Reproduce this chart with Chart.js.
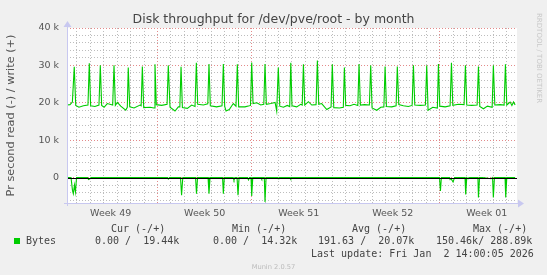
<!DOCTYPE html>
<html>
<head>
<meta charset="utf-8">
<script src="https://cdn.jsdelivr.net/npm/chart.js@4.4.0/dist/chart.umd.min.js"></script>
<style>
  html, body { margin: 0; padding: 0; background: #f0f0f0; }
  #wrap { position: relative; width: 547px; height: 275px; overflow: hidden; }
  #chart { position: absolute; left: 0; top: 0; }
  .t { position: absolute; white-space: pre; }
  .mono { font-family: "DejaVu Sans Mono", monospace; font-size: 10px; line-height: 12px; color: #444; }
  .title { left: 0; width: 547px; top: 11px; text-align: center; font-family: "DejaVu Sans"; font-size: 12.5px; line-height: 16px; color: #444; }
  .mark { left: 535px; top: 13px; writing-mode: vertical-rl; font-family: "DejaVu Sans"; font-size: 7px; line-height: 8px; color: #c8c8c8; }
  .foot { left: 0; width: 547px; text-align: center; top: 263px; font-family: "DejaVu Sans"; font-size: 6.7px; line-height: 9px; color: #bbb; }
  .box { position: absolute; left: 14px; top: 238px; width: 6px; height: 6px; background: #00cc00; }
</style>
</head>
<body>
<div id="wrap">
  <canvas id="chart" width="547" height="275"></canvas>
  <div class="t title">Disk throughput for /dev/pve/root - by month</div>
  <div class="t mark">RRDTOOL / TOBI OETIKER</div>
  <div class="t mono" style="left:111px;top:223px">Cur (-/+)</div>
  <div class="t mono" style="left:232px;top:223px">Min (-/+)</div>
  <div class="t mono" style="left:352px;top:223px">Avg (-/+)</div>
  <div class="t mono" style="left:473px;top:223px">Max (-/+)</div>
  <div class="box"></div>
  <div class="t mono" style="left:26px;top:235px">Bytes</div>
  <div class="t mono" style="left:95px;top:235px">0.00 /  19.44k</div>
  <div class="t mono" style="left:213px;top:235px">0.00 /  14.32k</div>
  <div class="t mono" style="left:318px;top:235px">191.63 /  20.07k</div>
  <div class="t mono" style="left:436px;top:235px">150.46k/ 288.89k</div>
  <div class="t mono" style="left:311px;top:248px">Last update: Fri Jan  2 14:00:05 2026</div>
  <div class="t foot">Munin 2.0.57</div>
</div>
<script>
// x = days since the left edge of the graph
const weekLabels = ['Week 49', 'Week 50', 'Week 51', 'Week 52', 'Week 01'];

// write (+), bytes per second
const writeDay = [0.00,0.22,0.40,0.54,0.65,0.89,1.22,1.56,1.66,1.76,2.08,2.38,2.48,2.58,2.76,3.00,3.40,3.50,3.60,3.75,
  4.00,4.37,4.49,4.56,4.67,4.99,5.44,5.52,5.61,5.71,6.18,6.48,6.55,6.65,7.05,7.45,7.54,7.67,8.04,8.29,
  8.40,8.49,8.59,8.96,9.28,9.53,9.63,9.73,10.15,10.48,10.57,10.67,11.14,11.54,11.64,11.74,11.84,12.08,12.38,12.58,
  12.68,12.78,13.25,13.57,13.66,13.75,13.85,14.13,14.42,14.65,14.74,14.84,15.17,15.49,15.61,15.73,15.84,16.11,16.40,16.58,
  16.66,16.75,17.10,17.40,17.51,17.60,17.70,17.97,18.22,18.54,18.64,18.74,18.96,19.34,19.66,19.75,19.86,20.28,20.57,20.65,
  20.75,21.07,21.37,21.65,21.74,21.84,22.15,22.51,22.61,22.71,23.06,23.36,23.59,23.68,23.78,24.18,24.50,24.59,24.70,25.04,
  25.41,25.69,25.79,25.89,26.30,26.68,26.78,26.88,27.23,27.57,27.65,27.75,28.15,28.52,28.62,28.72,29.14,29.56,29.66,29.76,
  30.13,30.53,30.63,30.73,31.00,31.30,31.65,31.74,31.85,32.24,32.54,32.64,32.74,32.99,33.12,33.24,33.36];
const writeVal = [19400,19500,20200,29600,19300,18800,19200,19400,30600,19200,19000,19400,30000,19300,18800,19800,19400,30000,19300,20100,
  19100,18000,18800,29400,18900,18600,19400,19200,29700,18700,18800,18600,30300,19500,19300,19600,30000,18800,17800,18900,
  18900,29600,18700,18500,19400,19000,30700,19600,19400,19700,30400,19200,18900,19200,30400,19000,17800,18200,19800,19100,
  30300,18900,18900,19200,19300,30800,19800,20000,19400,19600,30400,19600,19800,20100,17800,29400,19100,18800,19300,19000,
  30700,19200,18900,19600,19400,30300,19400,20300,19400,19500,31300,19600,19800,18200,18900,30300,18700,18600,18800,29400,
  19300,19200,19600,19300,30400,19400,19500,19400,30000,18600,18000,18800,18900,29700,19000,18900,19200,29700,19500,19200,
  19000,19300,30000,19400,19300,19400,30000,18000,18800,18600,30400,19100,18900,19200,30700,19300,19600,19500,30000,19400,
  19300,19400,29700,19000,18400,19100,18800,30000,19400,19500,19400,30300,19400,20200,19300,20200,19440];

// read (-), bytes per second
const readDay = [0.00,0.30,0.41,0.47,0.56,0.63,0.71,1.53,1.60,1.71,1.79,
  7.48,7.54,7.63,8.45,8.53,8.62,9.57,9.64,9.72,10.50,10.57,10.65,11.58,11.64,11.71,
  12.36,12.43,12.51,12.66,12.73,12.81,13.44,13.51,13.59,13.70,13.75,13.83,
  14.47,14.50,14.54,14.69,14.74,14.82,15.67,15.72,15.78,16.62,16.66,16.71,
  27.73,27.80,27.87,28.48,28.52,28.59,28.74,28.85,29.63,29.68,29.76,29.86,29.93,
  30.59,30.63,30.71,30.94,30.98,31.03,31.57,31.68,31.74,31.82,32.61,32.66,32.74,33.36];
const readVal = [0,0,-3500,-4300,-2000,-3800,0,0,-500,-300,0,
  0,-400,0,0,-4700,0,0,-4300,0,0,-4300,0,0,-4300,0,
  0,-700,0,0,-4750,0,0,-600,0,0,-4900,0,
  0,-300,0,0,-6500,0,0,-300,0,0,-300,0,
  0,-3600,0,0,-500,-300,-1200,0,0,-4500,0,-300,0,
  0,-5300,0,0,-200,0,-300,0,-5300,0,0,-5300,0,0];

const GREEN = '#00cc00';
const GRID = '#bdbdbd';
const MGRID = '#e38a8a';
const AXIS = '#c8c8f0';

function isWeekLine(v) {
  return Math.abs(((v - 6.74) % 7 + 7) % 7) < 0.01;
}

const muninPlugin = {
  id: 'munin',
  beforeDraw(chart) {
    const { ctx, chartArea: a } = chart;
    ctx.save();
    ctx.fillStyle = '#f0f0f0';
    ctx.fillRect(0, 0, chart.width, chart.height);
    ctx.fillStyle = '#ffffff';
    ctx.fillRect(a.left, a.top, a.right - a.left, a.bottom - a.top);
    ctx.restore();
  },
  afterDatasetsDraw(chart) {
    const { ctx, chartArea: a, scales } = chart;
    ctx.save();
    // zero rule
    const y0 = Math.round(scales.y.getPixelForValue(0)) + 0.5;
    ctx.strokeStyle = '#000';
    ctx.lineWidth = 1;
    ctx.beginPath();
    ctx.moveTo(a.left, y0);
    ctx.lineTo(a.right, y0);
    ctx.stroke();
    // axes with arrows
    const xb = Math.round(a.bottom) + 0.5;
    const xl = Math.round(a.left) + 0.5;
    ctx.strokeStyle = AXIS;
    ctx.fillStyle = AXIS;
    ctx.beginPath();
    ctx.moveTo(a.left - 3, xb);
    ctx.lineTo(a.right + 2, xb);
    ctx.moveTo(xl, a.bottom + 3);
    ctx.lineTo(xl, a.top - 2);
    ctx.stroke();
    ctx.beginPath();
    ctx.moveTo(a.right + 1, xb - 4);
    ctx.lineTo(a.right + 7, xb);
    ctx.lineTo(a.right + 1, xb + 4);
    ctx.fill();
    ctx.beginPath();
    ctx.moveTo(xl - 4, a.top - 1);
    ctx.lineTo(xl, a.top - 7);
    ctx.lineTo(xl + 4, a.top - 1);
    ctx.fill();
    ctx.restore();
  }
};

Chart.defaults.font.family = '"DejaVu Sans"';

new Chart(document.getElementById('chart'), {
  type: 'line',
  data: {
    datasets: [
      {
        label: 'read',
        data: readDay.map((d, i) => ({ x: d, y: readVal[i] })),
        borderColor: GREEN, borderWidth: 1.1, pointRadius: 0, tension: 0, fill: false
      },
      {
        label: 'Bytes',
        data: writeDay.map((d, i) => ({ x: d, y: writeVal[i] })),
        borderColor: GREEN, borderWidth: 1.1, pointRadius: 0, tension: 0, fill: false
      }
    ]
  },
  options: {
    responsive: false,
    animation: false,
    devicePixelRatio: 1,
    layout: { padding: { top: 28, right: 30, bottom: 52, left: 0 } },
    plugins: { legend: { display: false }, tooltip: { enabled: false }, title: { display: false } },
    scales: {
      x: {
        type: 'linear', position: 'bottom', min: 0, max: 33.5,
        afterBuildTicks: s => {
          const t = [];
          for (let d = 0.74; d < 33.5; d += 1) t.push({ value: +d.toFixed(2) });
          s.ticks = t;
        },
        ticks: { display: false, autoSkip: false },
        grid: { color: c => isWeekLine(c.tick.value) ? MGRID : GRID, drawTicks: false, lineWidth: 1 },
        border: { display: false, dash: [1, 2] },
        afterFit: s => { s.height = 0; }
      },
      xl: {
        type: 'linear', position: 'bottom', min: 0, max: 33.5,
        afterBuildTicks: s => {
          s.ticks = weekLabels.map((w, i) => ({ value: 3.25 + 7 * i }));
        },
        ticks: {
          callback: (v, i) => weekLabels[i],
          autoSkip: false, maxRotation: 0, color: '#555', font: { size: 9.5 }, padding: 5
        },
        grid: { display: false, drawTicks: false },
        border: { display: false },
        afterFit: s => { s.height = 20; }
      },
      y: {
        type: 'linear', min: -6800, max: 40000,
        afterBuildTicks: s => {
          const t = [];
          for (let v = -6000; v <= 40000; v += 2000) t.push({ value: v });
          s.ticks = t;
        },
        ticks: {
          callback: v => v % 10000 === 0 ? (v === 0 ? '0' : (v / 1000) + ' k') : '',
          autoSkip: false, color: '#555', font: { size: 9.5 }, padding: 8
        },
        grid: { color: c => c.tick.value % 10000 === 0 ? MGRID : GRID, drawTicks: false, lineWidth: 1 },
        border: { display: false, dash: [1, 2] },
        title: {
          display: true, text: 'Pr second read (-) / write (+)', color: '#555',
          font: { size: 11.3 }, padding: { top: 4.2, bottom: 0 }
        },
        afterFit: s => { s.width = 67; }
      }
    }
  },
  plugins: [muninPlugin]
});
</script>
</body>
</html>
